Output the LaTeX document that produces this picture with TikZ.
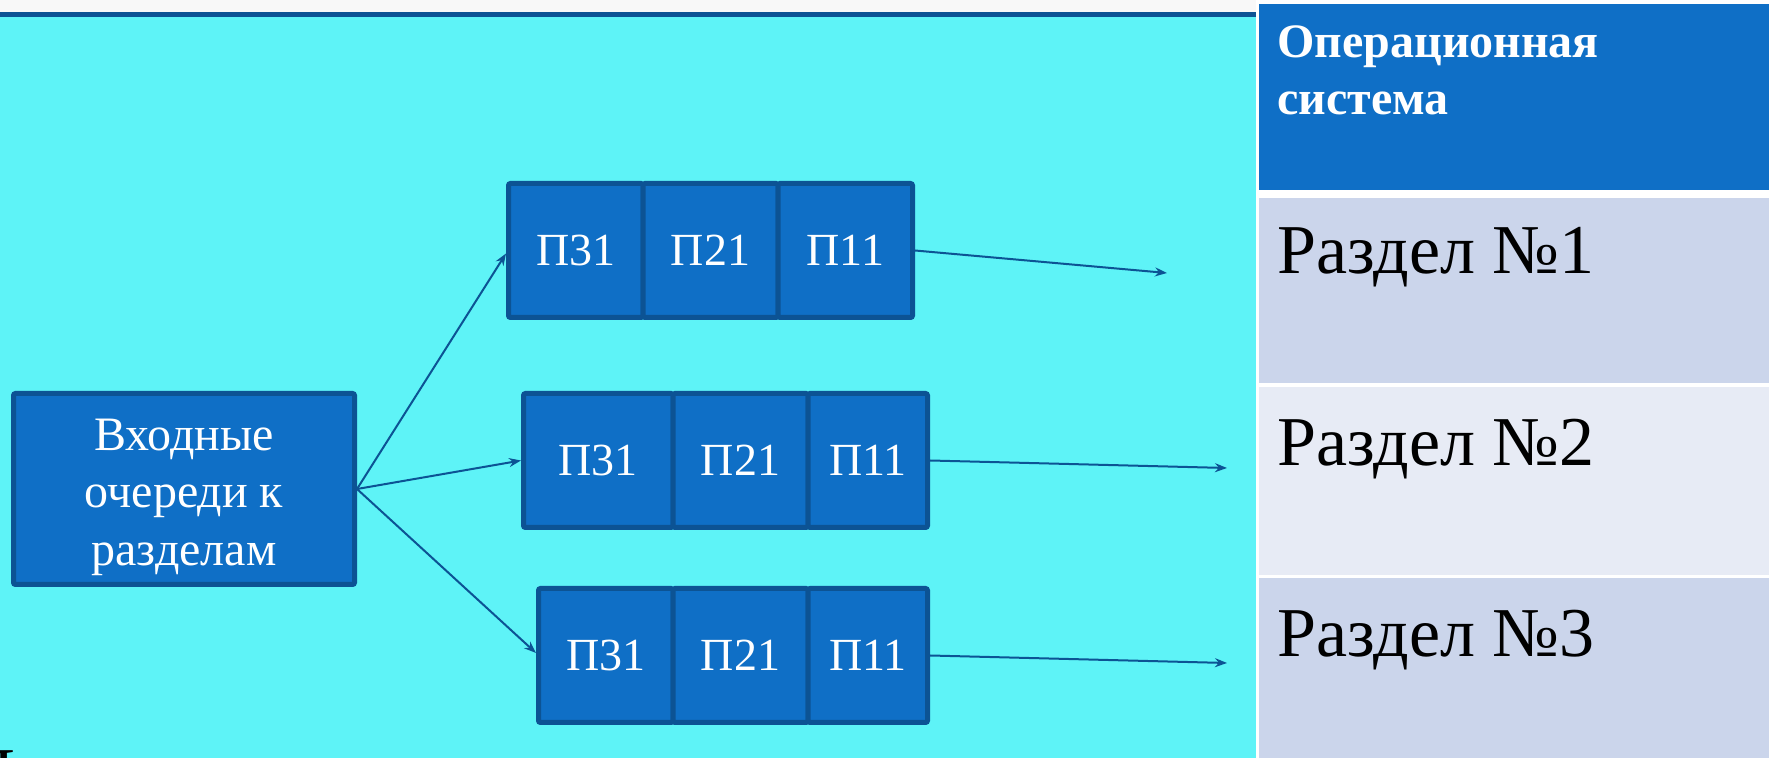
\documentclass[tikz,border=0pt]{standalone}
\usepackage{fontspec}
\setmainfont{Liberation Serif}
\usetikzlibrary{arrows.meta}
\definecolor{slidecyan}{RGB}{94,243,247}
\definecolor{boxfill}{RGB}{15,111,198}
\definecolor{boxedge}{RGB}{12,83,148}
\definecolor{rowdark}{RGB}{203,213,235}
\definecolor{rowlight}{RGB}{231,235,245}
\definecolor{topstrip}{RGB}{248,248,248}

\begin{document}
\begin{tikzpicture}[x=0.5pt,y=-0.5pt,
  blockbox/.style={draw=boxedge, fill=boxfill, line width=2.5pt, rounded corners=1pt,
                   text=white, inner sep=0pt},
  cell/.style={blockbox, minimum height=67pt, font=\fontsize{23}{27}\selectfont},
  link/.style={draw=boxedge, line width=1pt,
               -{Stealth[length=6pt,width=4.5pt,inset=2pt]}},
  rowlabel/.style={anchor=base west, inner sep=0pt, font=\fontsize{35}{40}\selectfont},
  hdrlabel/.style={anchor=base west, inner sep=0pt, text=white,
                   font=\fontsize{24}{28}\selectfont\bfseries}]

% page frame
\path[use as bounding box, clip] (0,0) rectangle (1769,758);

% slide background with its top rule
\fill[topstrip] (0,0) rectangle (1256,12);
\fill[boxedge] (0,12) rectangle (1256,17);
\fill[slidecyan] (0,17) rectangle (1256,758);

% partition table on the right
\fill[white] (1256,0) rectangle (1769,758);
\fill[boxfill] (1259,4) rectangle (1769,190);
\fill[rowdark] (1259,198) rectangle (1769,383);
\fill[rowlight] (1259,387) rectangle (1769,575);
\fill[rowdark] (1259,578) rectangle (1769,758);

\node[hdrlabel] (hdr1) at (1277,58) {Операционная};
\node[hdrlabel] (hdr2) at (1277,115) {система};
\node[rowlabel] (part1) at (1277,274) {Раздел №1};
\node[rowlabel] (part2) at (1277,466) {Раздел №2};
\node[rowlabel] (part3) at (1277,657) {Раздел №3};

% input queues block and its caption
\node[blockbox, minimum width=170.5pt, minimum height=95.5pt] (inbox) at (184,489) {};
\node[align=center, text=white, inner sep=0pt,
      font=\fontsize{24}{28.75}\selectfont] (inlabel) at (184,497)
  {Входные\\очереди к\\разделам};

% queue for partition 1
\node[cell, minimum width=67.25pt] (q1a) at (575.75,250.5) {П31};
\node[cell, minimum width=67.5pt]  (q1b) at (710.5,250.5)  {П21};
\node[cell, minimum width=67.25pt] (q1c) at (845.25,250.5) {П11};

% queue for partition 2
\node[cell, minimum width=74.75pt] (q2a) at (598.25,460.5) {П31};
\node[cell, minimum width=67.5pt]  (q2b) at (740.5,460.5)  {П21};
\node[cell, minimum width=59.75pt] (q2c) at (867.75,460.5) {П11};

% queue for partition 3
\node[cell, minimum width=67.25pt] (q3a) at (605.75,655.5) {П31};
\node[cell, minimum width=67.5pt]  (q3b) at (740.5,655.5)  {П21};
\node[cell, minimum width=59.75pt] (q3c) at (867.75,655.5) {П11};

% outgoing arrow ends
\coordinate (out1) at (1167,273);
\coordinate (out2) at (1227,468);
\coordinate (out3) at (1227,663);

% connectors
\draw[link] (inbox.east) -- ([yshift=-1.5pt]q1a.west);
\draw[link] (inbox.east) -- (q2a.west);
\draw[link] (inbox.east) -- ([yshift=1.25pt]q3a.west);
\draw[link] (q1c.east) -- (out1);
\draw[link] (q2c.east) -- (out2);
\draw[link] (q3c.east) -- (out3);

% next line of text, cut by the page edge
\node[anchor=north east, inner sep=0pt, font=\fontsize{35}{40}\selectfont] (tail) at (16,750) {Д};
\end{tikzpicture}
\end{document}
